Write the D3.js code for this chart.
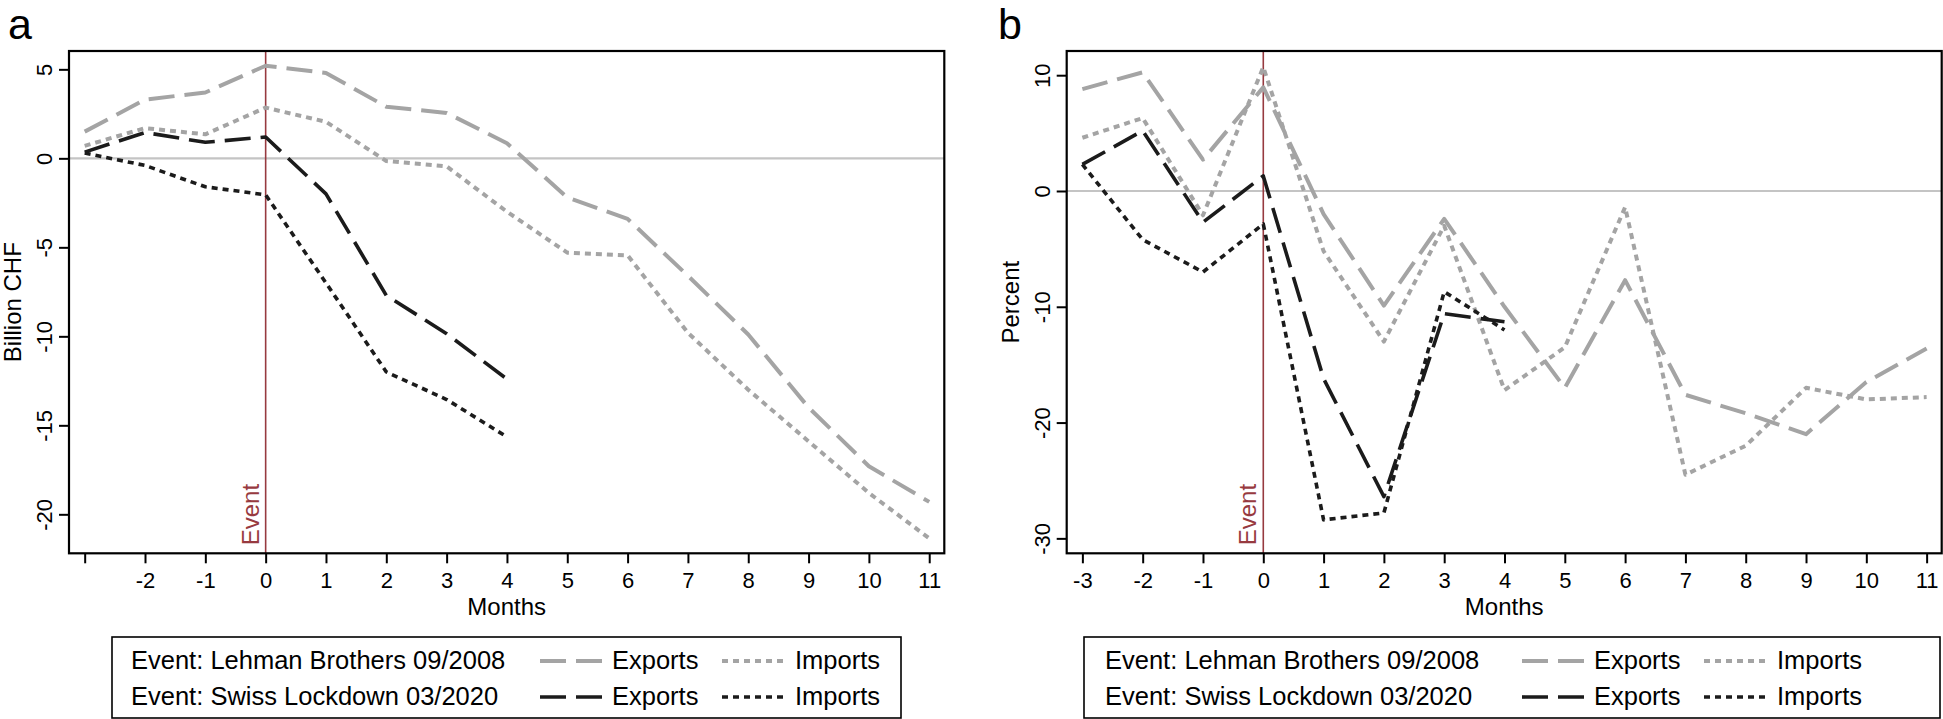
<!DOCTYPE html>
<html>
<head>
<meta charset="utf-8">
<script src="https://cdn.jsdelivr.net/npm/d3@7"></script>
<style>
  html, body { margin: 0; padding: 0; background: #fff; }
  svg { display: block; }
  text { font-family: "Liberation Sans", Arial, Helvetica, sans-serif; fill: #000; }
</style>
</head>
<body>
<svg id="chart" width="1943" height="719"></svg>
<script>
// ---------------- DATA ----------------
const monthsLehman = [-3, -2, -1, 0, 1, 2, 3, 4, 5, 6, 7, 8, 9, 10, 11];
const monthsLockdown = [-3, -2, -1, 0, 1, 2, 3, 4];

// Panel a: Billion CHF
const chfLehmanExports  = [1.5, 3.3, 3.7, 5.2, 4.8, 2.9, 2.55, 0.85, -2.2, -3.4, -6.6, -9.9, -14.0, -17.3, -19.3];
const chfLehmanImports  = [0.7, 1.7, 1.35, 2.85, 2.05, -0.15, -0.45, -3.0, -5.3, -5.45, -9.8, -13.0, -15.9, -18.8, -21.35];
const chfLockdownExports = [0.35, 1.45, 0.9, 1.2, -2.0, -7.7, -9.85, -12.4];
const chfLockdownImports = [0.3, -0.4, -1.6, -2.05, -7.0, -12.0, -13.55, -15.65];

// Panel b: Percent
const pctLehmanExports  = [8.8, 10.25, 2.7, 8.95, -2.0, -9.9, -2.4, -10.0, -17.0, -7.7, -17.6, -19.2, -21.0, -16.5, -13.6];
const pctLehmanImports  = [4.6, 6.3, -2.1, 10.7, -5.2, -13.0, -3.0, -17.2, -13.5, -1.4, -24.5, -22.0, -17.0, -18.0, -17.8];
const pctLockdownExports = [2.3, 5.2, -2.7, 1.3, -16.2, -26.4, -10.6, -11.3];
const pctLockdownImports = [2.3, -4.2, -7.0, -2.85, -28.4, -27.8, -8.7, -12.0];

// Ticks and labels
const xTicks = [-3, -2, -1, 0, 1, 2, 3, 4, 5, 6, 7, 8, 9, 10, 11];
const yTicksA = [5, 0, -5, -10, -15, -20];
const yTicksB = [10, 0, -10, -20, -30];
const xTitle = "Months";
const yTitleA = "Billion CHF";
const yTitleB = "Percent";
const eventLabel = "Event";
const legendRows = ["Event: Lehman Brothers 09/2008", "Event: Swiss Lockdown 03/2020"];
const legendSeries = ["Exports", "Imports"];

// ---------------- STYLE ----------------
const GRAY = "#a4a4a4";
const BLACK = "#1b1b1b";
const EVENT_COLOR = "#973a40";
const ZERO_COLOR = "#c4c4c4";
const LONG_DASH = "26,10";
const SHORT_DASH = "6,5";

const svg = d3.select("#chart");

function drawPanel(cfg) {
  const g = svg.append("g");
  const x = d3.scaleLinear().domain([-3.26, 11.25]).range([cfg.left, cfg.right]);
  const y = d3.scaleLinear().domain(cfg.yDomain).range([cfg.bottom, cfg.top]);

  // zero line
  g.append("line")
    .attr("x1", cfg.left).attr("x2", cfg.right)
    .attr("y1", y(0)).attr("y2", y(0))
    .attr("stroke", ZERO_COLOR).attr("stroke-width", 2.2);

  // event line
  g.append("line")
    .attr("x1", x(0)).attr("x2", x(0))
    .attr("y1", cfg.top).attr("y2", cfg.bottom)
    .attr("stroke", EVENT_COLOR).attr("stroke-width", 1.6);

  g.append("text")
    .attr("transform", `translate(${x(0) - 7},${cfg.bottom - 8}) rotate(-90)`)
    .attr("text-anchor", "start")
    .style("font-size", "24px")
    .style("fill", EVENT_COLOR)
    .text(eventLabel);

  const series = [
    { m: monthsLehman, v: cfg.data[0], color: GRAY, dash: LONG_DASH, w: 4 },
    { m: monthsLehman, v: cfg.data[1], color: GRAY, dash: SHORT_DASH, w: 4 },
    { m: monthsLockdown, v: cfg.data[2], color: BLACK, dash: LONG_DASH, w: 3.6 },
    { m: monthsLockdown, v: cfg.data[3], color: BLACK, dash: SHORT_DASH, w: 3.6 }
  ];
  const line = d3.line().x(d => x(d[0])).y(d => y(d[1]));
  series.forEach(s => {
    g.append("path")
      .datum(s.m.map((m, i) => [m, s.v[i]]))
      .attr("d", line)
      .attr("fill", "none")
      .attr("stroke", s.color)
      .attr("stroke-width", s.w)
      .attr("stroke-dasharray", s.dash)
      .attr("stroke-linejoin", "round");
  });

  // frame
  g.append("rect")
    .attr("x", cfg.left).attr("y", cfg.top)
    .attr("width", cfg.right - cfg.left).attr("height", cfg.bottom - cfg.top)
    .attr("fill", "none").attr("stroke", "#000").attr("stroke-width", 2.2);

  // x axis
  const xa = g.append("g").attr("transform", `translate(0,${cfg.bottom})`)
    .call(d3.axisBottom(x).tickValues(xTicks).tickSize(10)
      .tickFormat(d => (cfg.hideFirstX && d === -3) ? "" : String(d)));
  xa.select(".domain").remove();
  xa.selectAll(".tick line").attr("stroke", "#000").attr("stroke-width", 2);
  xa.selectAll(".tick text").attr("y", 35).attr("dy", 0)
    .style("font-size", "22px").style("font-family", "Liberation Sans, Arial, sans-serif").attr("fill", "#000");

  // y axis
  const ya = g.append("g").attr("transform", `translate(${cfg.left},0)`)
    .call(d3.axisLeft(y).tickValues(cfg.yTicks).tickSize(10).tickFormat(d => String(d)));
  ya.select(".domain").remove();
  ya.selectAll(".tick line").attr("stroke", "#000").attr("stroke-width", 2);
  ya.selectAll(".tick text")
    .attr("x", null).attr("dy", null)
    .attr("text-anchor", "middle")
    .attr("transform", "translate(-17,0) rotate(-90)")
    .style("font-size", "22px").style("font-family", "Liberation Sans, Arial, sans-serif").attr("fill", "#000");

  // titles
  g.append("text")
    .attr("x", (cfg.left + cfg.right) / 2).attr("y", 615)
    .attr("text-anchor", "middle").style("font-size", "24px")
    .text(xTitle);
  g.append("text")
    .attr("transform", `translate(${cfg.yTitleX},${(cfg.top + cfg.bottom) / 2}) rotate(-90)`)
    .attr("text-anchor", "middle").style("font-size", "24px")
    .text(cfg.yTitle);

  // panel letter
  g.append("text")
    .attr("x", cfg.letterX).attr("y", 39)
    .style("font-size", "43px")
    .text(cfg.letter);

  // legend
  const L = cfg.legend;
  const lg = g.append("g");
  lg.append("rect")
    .attr("x", L.x0).attr("y", 637).attr("width", L.x1 - L.x0).attr("height", 81)
    .attr("fill", "#fff").attr("stroke", "#000").attr("stroke-width", 1.6);
  const rowsY = [669, 705];
  const symColors = [GRAY, BLACK];
  legendRows.forEach((r, i) => {
    lg.append("text").attr("x", L.text).attr("y", rowsY[i]).style("font-size", "25.5px").text(r);
    lg.append("line")
      .attr("x1", L.sym1).attr("x2", L.sym1 + 62)
      .attr("y1", rowsY[i] - 8).attr("y2", rowsY[i] - 8)
      .attr("stroke", symColors[i]).attr("stroke-width", i === 0 ? 4 : 3.6)
      .attr("stroke-dasharray", LONG_DASH);
    lg.append("text").attr("x", L.lab1).attr("y", rowsY[i]).style("font-size", "25.5px").text(legendSeries[0]);
    lg.append("line")
      .attr("x1", L.sym2).attr("x2", L.sym2 + 62)
      .attr("y1", rowsY[i] - 8).attr("y2", rowsY[i] - 8)
      .attr("stroke", symColors[i]).attr("stroke-width", i === 0 ? 4 : 3.6)
      .attr("stroke-dasharray", SHORT_DASH);
    lg.append("text").attr("x", L.lab2).attr("y", rowsY[i]).style("font-size", "25.5px").text(legendSeries[1]);
  });
}

drawPanel({
  left: 69, right: 944.3, top: 51, bottom: 553.3,
  yDomain: [-22.19, 6.03], yTicks: yTicksA, yTitle: yTitleA, yTitleX: 21,
  letter: "a", letterX: 8, hideFirstX: true,
  data: [chfLehmanExports, chfLehmanImports, chfLockdownExports, chfLockdownImports],
  legend: { x0: 112, x1: 901, text: 131, sym1: 540, lab1: 612, sym2: 722, lab2: 795 }
});

drawPanel({
  left: 1066.7, right: 1941.7, top: 51, bottom: 553.3,
  yDomain: [-31.29, 12.09], yTicks: yTicksB, yTitle: yTitleB, yTitleX: 1019,
  letter: "b", letterX: 998, hideFirstX: false,
  data: [pctLehmanExports, pctLehmanImports, pctLockdownExports, pctLockdownImports],
  legend: { x0: 1084, x1: 1940, text: 1105, sym1: 1522, lab1: 1594, sym2: 1704, lab2: 1777 }
});
</script>
</body>
</html>
